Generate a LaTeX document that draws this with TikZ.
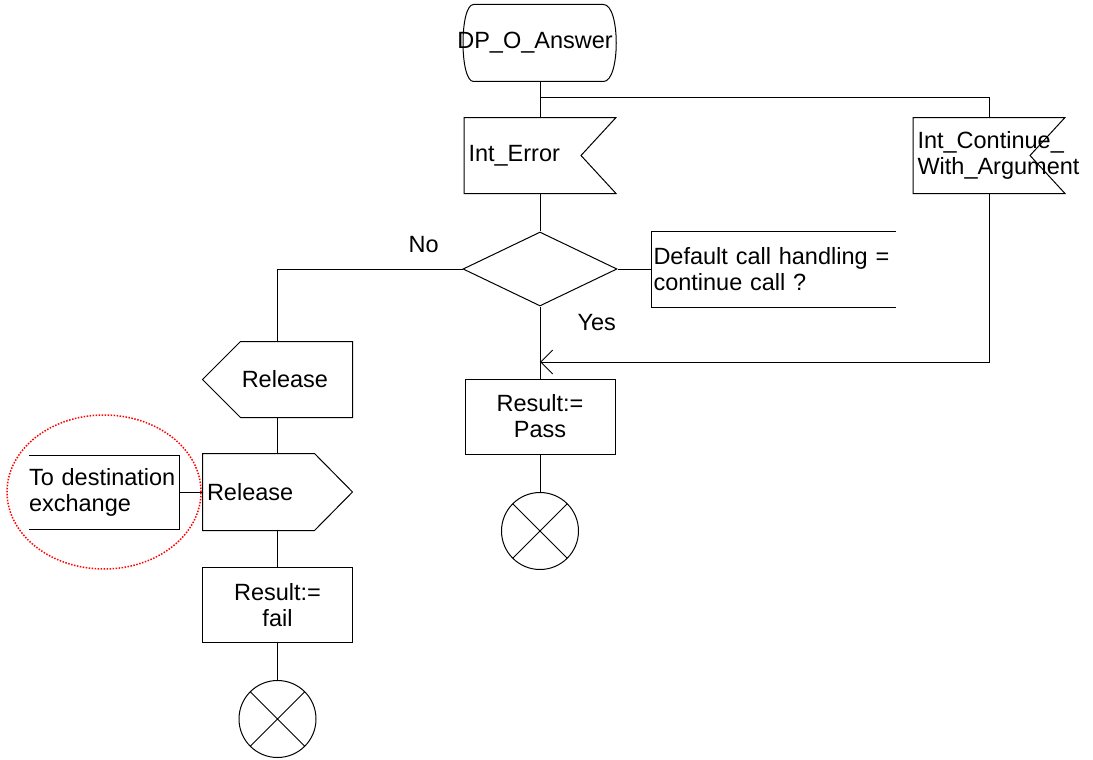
\documentclass[tikz,border=0pt]{standalone}
\usepackage{fontspec}
\setmainfont{Liberation Sans}
\usepackage{tikz}
\usetikzlibrary{arrows.meta}
\usetikzlibrary{shapes.geometric}
\usetikzlibrary{positioning}
\usetikzlibrary{calc}
\tikzstyle{startbox}=[minimum width=152pt,minimum height=76pt,inner sep=0pt]
\tikzstyle{inbox}=[minimum height=75pt,inner xsep=4pt,text width=143pt,align=left]
\tikzstyle{outbox}=[minimum height=76pt,inner xsep=4pt,text width=141pt,align=left]
\tikzstyle{taskbox}=[draw,rectangle,minimum width=150pt,minimum height=75pt,inner sep=0pt,align=center]
\tikzstyle{choice}=[draw,diamond,minimum width=154pt,minimum height=74pt,inner sep=0pt]
\tikzstyle{remark}=[minimum height=75pt,inner xsep=1.5pt,text width=240pt,align=left]
\tikzstyle{endsym}=[draw,circle,minimum size=77pt,inner sep=0pt,
path picture={\draw (path picture bounding box.north west) -- (path picture bounding box.south east)
(path picture bounding box.north east) -- (path picture bounding box.south west);}]
\tikzstyle{lbl}=[inner sep=0pt]
\tikzstyle{flow}=[draw,-]
\tikzstyle{redring}=[draw,red,line width=1.5pt,dash pattern=on 1.5pt off 1.5pt]

\begin{document}
\begin{tikzpicture}[x=1pt,y=-1pt,line width=1pt,font=\fontsize{23.5}{26}\selectfont]
\useasboundingbox (0,0) rectangle (1093,760);

	\node[startbox] (ans) at (540,43) {\makebox[0pt]{DP\_O\_Answer\hspace*{10pt}}};
	\node[inbox] (ierr) at (540,155.5) {Int\_Error};
	\node[inbox] (icont) at (989,155.5) {Int\_Continue\_\\With\_Argument};
	\node[choice] (dch) at (540,269) {};
	\node[remark] (dnote) at (773.5,269) {Default call handling =\\continue call ?};

	\node[outbox,align=right,inner xsep=24pt,text width=101pt,minimum height=75pt] (rel1) at (277.5,379.5) {Release};
	\node[outbox] (rel2) at (277.5,492) {Release};
	\node[remark,inner xsep=0pt,text width=150pt,minimum height=73pt] (dest) at (104,492) {To destination\\exchange};

	\node[taskbox] (pass) at (540,416.5) {Result:=\\Pass};
	\node[taskbox] (fail) at (277.5,605) {Result:=\\fail};
	\node[endsym] (end1) at (540,531) {};
	\node[endsym] (end2) at (277.5,719) {};

	% symbol outlines
	\draw ($(ans.north west)+(10,0)$) -- ($(ans.north east)+(-13,0)$)
	.. controls ($(ans.north east)+(4,0)$) and ($(ans.south east)+(4,0)$) .. ($(ans.south east)+(-13,0)$)
	-- ($(ans.south west)+(10,0)$)
	.. controls ($(ans.south west)+(-4,0)$) and ($(ans.north west)+(-4,0)$) .. cycle;
	\foreach \n in {ierr,icont}
	\draw (\n.north west) -- (\n.north east) -- ($(\n.east)+(-35,0)$) -- (\n.south east) -- (\n.south west) -- cycle;
	\draw (rel1.north east) -- (rel1.south east) -- ($(rel1.south west)+(38,0)$) -- (rel1.west)
	-- ($(rel1.north west)+(38,0)$) -- cycle;
	\draw (rel2.north west) -- ($(rel2.north east)+(-38,0)$) -- (rel2.east)
	-- ($(rel2.south east)+(-38,0)$) -- (rel2.south west) -- cycle;
	\draw (dnote.north east) -- (dnote.north west) -- (dnote.south west) -- (dnote.south east);
	\draw (dest.north west) -- (dest.north east) -- (dest.south east) -- (dest.south west);

	\coordinate (j1) at (540,98);
	\coordinate (j2) at (540,362);

	\path[flow] (ans) -- (ierr);
	\path[flow] (j1) -| (icont.north);
	\path[flow] (ierr) -- (dch);
	\path[flow] (dch) -- (dnote);

	\path[flow] (dch.west) -| node[lbl,pos=0.105,above=16pt] {No} (rel1.north);
	\path[flow] (dch) -- node[lbl,pos=0.22,right=37pt] {Yes} (pass);
	\path[flow,-{Straight Barb[length=12pt,width=24pt]}] (icont.south) |- (j2);

	\path[flow] (rel1) -- (rel2);
	\path[flow] (rel2) -- (fail);
	\path[flow] (fail) -- (end2);
	\path[flow] (pass) -- (end1);
	\path[flow] (dest) -- (rel2);

	\path[redring] (dest.center) ellipse [x radius=97pt, y radius=77pt];
\end{tikzpicture}
\end{document}
